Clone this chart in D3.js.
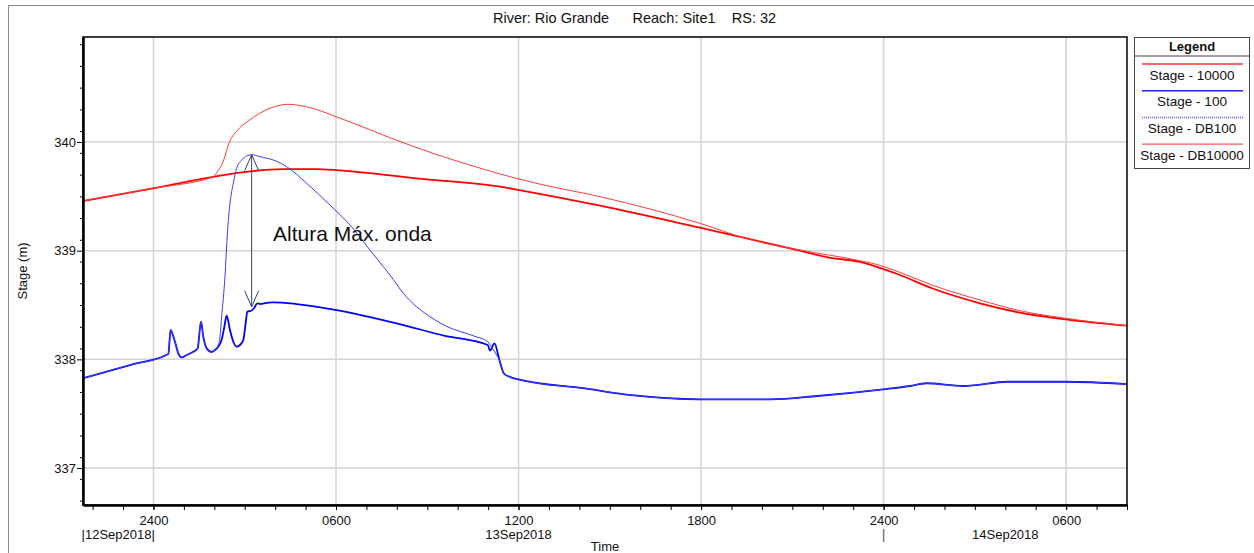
<!DOCTYPE html>
<html>
<head>
<meta charset="utf-8">
<script src="https://cdn.jsdelivr.net/npm/d3@7"></script>
<style>
  body { margin: 0; background: #fff; }
  text { font-family: "Liberation Sans", Arial, sans-serif; }
</style>
</head>
<body>
<svg id="chart" width="1254" height="553"></svg>
<script>
// Times are hours counted from 12Sep2018 00:00; stages in metres.
const hours10000 = [21.68, 23.98, 25.96, 26.84, 28.26, 29.34, 30.0, 31.55, 32.63, 35.49, 35.98, 38.68, 41.96, 45.25, 46.17, 47.22, 47.75, 48.54, 49.59, 51.17, 52.48, 53.98, 56.0];
const stage10000 = [339.457, 339.574, 339.68, 339.718, 339.75, 339.75, 339.742, 339.70, 339.666, 339.585, 339.56, 339.414, 339.211, 339.0, 338.939, 338.896, 338.853, 338.776, 338.654, 338.516, 338.43, 338.368, 338.31];

const hours100 = [21.68, 23.23, 24.488, 24.564, 24.597, 24.707, 24.816, 24.926, 25.09, 25.31, 25.452, 25.561, 25.638, 25.748, 25.912, 26.02, 26.13, 26.24, 26.33, 26.405, 26.515, 26.624, 26.734, 26.843, 26.953, 27.03, 27.085, 27.194, 27.304, 27.413, 27.523, 27.632, 27.94, 28.706, 30.02, 32.09, 33.55, 34.99, 35.06, 35.21, 35.37, 35.52, 35.75, 35.99, 38.18, 39.72, 41.97, 44.29, 45.82, 47.99, 48.87, 49.4, 50.63, 52.08, 53.99, 56.0];
const stage100 = [337.826, 337.948, 338.049, 338.27, 338.254, 338.162, 338.055, 338.018, 338.04, 338.07, 338.101, 338.346, 338.208, 338.101, 338.068, 338.086, 338.117, 338.178, 338.3, 338.402, 338.27, 338.162, 338.117, 338.132, 338.178, 338.332, 338.44, 338.445, 338.47, 338.516, 338.509, 338.516, 338.525, 338.509, 338.454, 338.325, 338.218, 338.132, 338.08, 338.147, 337.994, 337.87, 337.835, 337.816, 337.733, 337.67, 337.632, 337.632, 337.663, 337.724, 337.755, 337.78, 337.755, 337.794, 337.794, 337.773];

const hoursDB100 = [21.68, 23.23, 24.488, 24.564, 24.597, 24.707, 24.816, 24.926, 25.09, 25.31, 25.452, 25.561, 25.638, 25.748, 25.912, 26.02, 26.164, 26.24, 26.35, 26.43, 26.515, 26.624, 26.734, 26.9, 27.063, 27.227, 27.5, 27.94, 28.378, 29.035, 29.8, 30.46, 31.117, 31.555, 31.775, 32.213, 32.65, 32.85, 33.61, 34.53, 34.99, 35.14, 35.3, 35.37, 35.52, 35.75, 35.99, 38.18, 39.72, 41.97, 44.29, 45.82, 47.99, 48.87, 49.4, 50.63, 52.08, 53.99, 56.0];
const stageDB100 = [337.826, 337.948, 338.049, 338.27, 338.254, 338.162, 338.055, 338.018, 338.04, 338.07, 338.101, 338.346, 338.208, 338.101, 338.068, 338.086, 338.162, 338.392, 338.76, 339.16, 339.436, 339.62, 339.758, 339.834, 339.871, 339.883, 339.865, 339.834, 339.773, 339.62, 339.42, 339.236, 339.006, 338.853, 338.776, 338.608, 338.484, 338.44, 338.307, 338.215, 338.162, 338.101, 338.03, 337.994, 337.87, 337.835, 337.816, 337.733, 337.67, 337.632, 337.632, 337.663, 337.724, 337.755, 337.78, 337.755, 337.794, 337.794, 337.773];

const hoursDB10000 = [21.68, 23.98, 25.96, 26.06, 26.29, 26.5, 26.72, 27.16, 27.83, 28.42, 29.14, 30.0, 30.99, 31.77, 33.19, 34.4, 35.39, 36.71, 38.68, 41.98, 43.54, 45.25, 47.22, 47.75, 48.54, 49.59, 51.17, 52.48, 53.98, 56.0];
const stageDB10000 = [339.457, 339.574, 339.68, 339.712, 339.819, 340.003, 340.095, 340.202, 340.31, 340.347, 340.316, 340.233, 340.126, 340.04, 339.896, 339.788, 339.706, 339.612, 339.497, 339.25, 339.107, 339.006, 338.908, 338.875, 338.80, 338.684, 338.546, 338.448, 338.378, 338.31];

const seriesNames = ["Stage - 10000", "Stage - 100", "Stage - DB100", "Stage - DB10000"];
const dayLabels = ["|12Sep2018|", "13Sep2018", "14Sep2018"];
const daySeparators = [48];
const yMajorTicks = [337, 338, 339, 340];

// Drawn annotation: wave height between the dam-break peak and the base stage
const annotationText = "Altura Máx. onda";
const annotationAnchor = [27.93, 339.089];
const arrowBottomStage = 338.484;

const titleParts = ["River: Rio Grande", "Reach: Site1", "RS: 32"];

const toDate = h => new Date(Date.UTC(2018, 8, 12) + h * 3600000);

const svg = d3.select("#chart");
const W = 1254, H = 553;
const plot = { left: 83, top: 37, right: 1127, bottom: 505 };

svg.append("rect").attr("width", W).attr("height", H).attr("fill", "#fff");

// outer frame
svg.append("path")
  .attr("d", `M8.5,${H} V5.5 H${W}`)
  .attr("fill", "none").attr("stroke", "#8a8a8a").attr("stroke-width", 1);

const x = d3.scaleUtc()
  .domain([toDate(21 + 41 / 60), toDate(56)])
  .range([plot.left, plot.right]);
const y = d3.scaleLinear()
  .domain([336.66, 340.966])
  .range([plot.bottom, plot.top]);

const xMajor = x.ticks(d3.utcHour.every(6));
const xMinor = x.ticks(d3.utcHour.every(1));
const yMinor = d3.range(3367, 3410, 2).map(v => v / 10).filter(v => v >= y.domain()[0] && v <= y.domain()[1]);

// grid
const grid = svg.append("g").attr("stroke", "#d4d4d4").attr("stroke-width", 1.5);
grid.selectAll("line.vx").data(xMajor).join("line")
  .attr("x1", d => x(d)).attr("x2", d => x(d))
  .attr("y1", plot.top).attr("y2", plot.bottom);
grid.selectAll("line.hy").data(yMajorTicks).join("line")
  .attr("x1", plot.left).attr("x2", plot.right)
  .attr("y1", d => y(d)).attr("y2", d => y(d));

// series
const series = [
  { name: seriesNames[0], h: hours10000, v: stage10000, color: "#ff0000", width: 1.8 },
  { name: seriesNames[1], h: hours100, v: stage100, color: "#0000ff", width: 1.8 },
  { name: seriesNames[2], h: hoursDB100, v: stageDB100, color: "#3a3aff", width: 1 },
  { name: seriesNames[3], h: hoursDB10000, v: stageDB10000, color: "#ff3a3a", width: 1 }
];
const line = d3.line()
  .x(d => x(toDate(d[0])))
  .y(d => y(d[1]))
  .curve(d3.curveMonotoneX);

svg.append("clipPath").attr("id", "plotclip")
  .append("rect").attr("x", plot.left).attr("y", plot.top)
  .attr("width", plot.right - plot.left).attr("height", plot.bottom - plot.top);

svg.append("g").attr("clip-path", "url(#plotclip)")
  .selectAll("path").data(series).join("path")
  .attr("d", s => line(s.h.map((h, i) => [h, s.v[i]])))
  .attr("fill", "none")
  .attr("stroke", d => d.color)
  .attr("stroke-width", d => d.width)
  .attr("stroke-linejoin", "round");

// annotation arrow from the dam-break peak down to the base stage
const peakIdx = d3.maxIndex(stageDB100);
const ax = x(toDate(hoursDB100[peakIdx]));
const ayTop = y(stageDB100[peakIdx]);
const ayBot = y(arrowBottomStage);
const arrowColor = "#33406a";
const ann = svg.append("g").attr("stroke", arrowColor).attr("stroke-width", 1).attr("fill", "none");
ann.append("line").attr("x1", ax).attr("x2", ax).attr("y1", ayTop).attr("y2", ayBot);
ann.append("path").attr("d", `M${ax - 7},${ayTop + 16} L${ax},${ayTop} L${ax + 7},${ayTop + 16}`);
ann.append("path").attr("d", `M${ax - 7},${ayBot - 16} L${ax},${ayBot} L${ax + 7},${ayBot - 16}`);
svg.append("text")
  .attr("x", x(toDate(annotationAnchor[0])))
  .attr("y", y(annotationAnchor[1]))
  .attr("font-size", 21).attr("fill", "#111")
  .text(annotationText);

// plot frame
svg.append("rect")
  .attr("x", plot.left).attr("y", plot.top)
  .attr("width", plot.right - plot.left).attr("height", plot.bottom - plot.top)
  .attr("fill", "none").attr("stroke", "#000").attr("stroke-width", 1.5);

// y axis
const yMinorAxis = svg.append("g").attr("transform", `translate(${plot.left},0)`)
  .call(d3.axisLeft(y).tickValues(yMinor).tickSize(3).tickSizeOuter(0).tickFormat(""));
yMinorAxis.select(".domain").remove();
const yAxis = svg.append("g").attr("transform", `translate(${plot.left},0)`)
  .call(d3.axisLeft(y).tickValues(yMajorTicks).tickSize(6).tickSizeOuter(0).tickPadding(1).tickFormat(d3.format("d")));
yAxis.select(".domain").attr("stroke-width", 2.5);
yAxis.selectAll("text").attr("font-size", 13).attr("fill", "#111");

// x axis
const xMinorAxis = svg.append("g").attr("transform", `translate(0,${plot.bottom})`)
  .call(d3.axisBottom(x).tickValues(xMinor).tickSize(5).tickSizeOuter(0).tickFormat(""));
xMinorAxis.select(".domain").remove();
const fmtHour = d => {
  const hr = d.getUTCHours();
  return (hr === 0 ? "24" : d3.format("02d")(hr)) + "00";
};
const xAxis = svg.append("g").attr("transform", `translate(0,${plot.bottom})`)
  .call(d3.axisBottom(x).tickValues(xMajor).tickSize(5).tickSizeOuter(0).tickPadding(6).tickFormat(fmtHour));
xAxis.select(".domain").attr("stroke-width", 2.5);
xAxis.selectAll("text").attr("font-size", 13).attr("fill", "#111");

// day labels centred on each day's visible span
const [d0, d1] = x.domain();
dayLabels.forEach((label, i) => {
  const start = new Date(Math.max(+d0, Date.UTC(2018, 8, 12 + i)));
  const end = new Date(Math.min(+d1, Date.UTC(2018, 8, 13 + i)));
  svg.append("text")
    .attr("x", (x(start) + x(end)) / 2).attr("y", 539)
    .attr("text-anchor", "middle").attr("font-size", 13).attr("fill", "#111")
    .text(label);
});
svg.selectAll("line.daysep").data(daySeparators).join("line")
  .attr("x1", d => x(toDate(d))).attr("x2", d => x(toDate(d)))
  .attr("y1", 529).attr("y2", 542)
  .attr("stroke", "#777").attr("stroke-width", 1.5);

svg.append("text")
  .attr("x", (plot.left + plot.right) / 2).attr("y", 551)
  .attr("text-anchor", "middle").attr("font-size", 13).attr("fill", "#111")
  .text("Time");

svg.append("text")
  .attr("transform", `translate(26.5,${(plot.top + plot.bottom) / 2}) rotate(-90)`)
  .attr("text-anchor", "middle").attr("font-size", 13).attr("fill", "#111")
  .text("Stage (m)");

// title, three fields spaced apart
const titleCenters = [551, 674, 754];
svg.selectAll("text.title").data(titleParts).join("text")
  .attr("class", "title")
  .attr("x", (d, i) => titleCenters[i]).attr("y", 23)
  .attr("text-anchor", "middle")
  .attr("font-size", 14.5).attr("fill", "#111")
  .text(d => d);

// legend
const lg = svg.append("g");
const lgX = 1134.5, lgY = 37.5, lgW = 115, lgH = 131;
lg.append("rect").attr("x", lgX).attr("y", lgY).attr("width", lgW).attr("height", lgH)
  .attr("fill", "#fff").attr("stroke", "#444").attr("stroke-width", 1);
lg.append("text").attr("x", lgX + lgW / 2).attr("y", 50.5)
  .attr("text-anchor", "middle").attr("font-size", 13).attr("font-weight", "bold").attr("fill", "#111")
  .text("Legend");
lg.append("line").attr("x1", lgX).attr("x2", lgX + lgW).attr("y1", 56).attr("y2", 56)
  .attr("stroke", "#444").attr("stroke-width", 1.2);
const legendStyle = [
  { color: "#ff3030", width: 1.5, dash: null },
  { color: "#2020ff", width: 1.5, dash: null },
  { color: "#7a7aff", width: 2, dash: "1,1" },
  { color: "#ff3030", width: 1, dash: null }
];
series.forEach((s, i) => {
  const yy = 64 + i * 26.7;
  lg.append("line").attr("x1", 1142).attr("x2", 1243).attr("y1", yy).attr("y2", yy)
    .attr("stroke", legendStyle[i].color).attr("stroke-width", legendStyle[i].width)
    .attr("stroke-dasharray", legendStyle[i].dash);
  lg.append("text").attr("x", lgX + lgW / 2).attr("y", yy + 15.5)
    .attr("text-anchor", "middle").attr("font-size", 13.5).attr("fill", "#111")
    .text(s.name);
});
</script>
</body>
</html>
